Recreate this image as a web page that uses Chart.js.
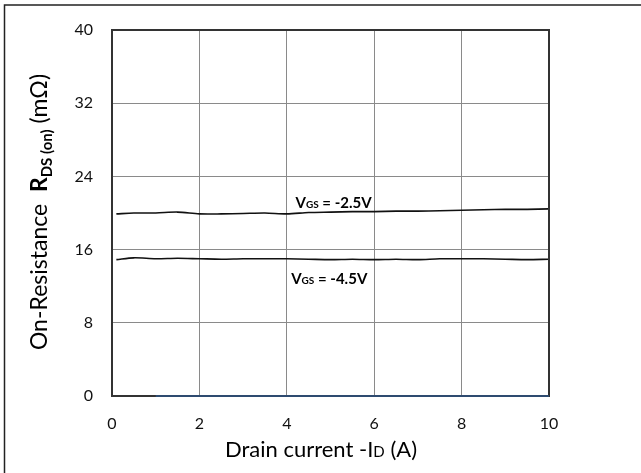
<!DOCTYPE html>
<html>
<head>
<meta charset="utf-8">
<script src="https://cdn.jsdelivr.net/npm/chart.js@4.4.1/dist/chart.umd.min.js"></script>
<style>
  html, body { margin: 0; padding: 0; background: #fff; }
  canvas { display: block; }
</style>
</head>
<body>
<canvas id="rdsChart" width="641" height="473"></canvas>
<script>
// Drain current (A) sample points
const currents = [0.1, 0.5, 1, 1.5, 2, 2.5, 3, 3.5, 4, 4.5, 5, 5.5, 6, 6.5, 7, 7.5, 8, 8.5, 9, 9.5, 10];
// On-resistance (mOhm) for each gate voltage
const rds25 = [19.9, 20.0, 20.0, 20.1, 19.9, 19.9, 19.95, 20.0, 19.9, 20.05, 20.1, 20.15, 20.15, 20.2, 20.2, 20.25, 20.3, 20.35, 20.4, 20.4, 20.45];
const rds45 = [14.9, 15.1, 15.0, 15.05, 15.0, 14.95, 15.0, 15.0, 15.0, 14.95, 14.9, 14.95, 14.9, 14.95, 14.9, 15.0, 15.0, 15.0, 14.95, 14.9, 14.95];
const baseX = [1, 10];
const baseY = [0, 0];
const xTicks = [0, 2, 4, 6, 8, 10];
const yTicks = [0, 8, 16, 24, 32, 40];

const FONT = 'Lato, "Open Sans", sans-serif';

// draw text made of pieces with different fonts (for subscripts)
function richText(ctx, parts, x, y, align) {
    let total = 0;
    parts.forEach(p => { ctx.font = p.font; total += ctx.measureText(p.text).width; });
    let cx = align === 'center' ? x - total / 2 : x;
    parts.forEach(p => {
        ctx.font = p.font;
        ctx.fillText(p.text, cx, y + (p.dy || 0));
        cx += ctx.measureText(p.text).width;
    });
}

const decorPlugin = {
    id: 'decor',
    afterDraw(chart) {
        const ctx = chart.ctx;
        const area = chart.chartArea;
        const xs = chart.scales.x, ys = chart.scales.y;
        ctx.save();
        // plot frame
        ctx.strokeStyle = '#333';
        ctx.lineWidth = 2;
        ctx.strokeRect(area.left, area.top, area.right - area.left, area.bottom - area.top);
        // dark baseline from the original
        ctx.strokeStyle = '#2e4b70';
        ctx.beginPath();
        ctx.moveTo(xs.getPixelForValue(baseX[0]), ys.getPixelForValue(baseY[0]));
        ctx.lineTo(xs.getPixelForValue(baseX[1]), ys.getPixelForValue(baseY[1]));
        ctx.stroke();
        // outer border (top and left)
        ctx.strokeStyle = '#222';
        ctx.lineWidth = 1.5;
        ctx.beginPath();
        ctx.moveTo(641, 5);
        ctx.lineTo(4.5, 5);
        ctx.lineTo(4.5, 473);
        ctx.stroke();

        ctx.fillStyle = '#000';
        ctx.textBaseline = 'alphabetic';
        ctx.textAlign = 'left';
        // curve labels
        richText(ctx, [
            { text: 'V', font: 'bold 15px ' + FONT },
            { text: 'GS', font: 'bold 10px ' + FONT },
            { text: ' = -2.5V', font: 'bold 15px ' + FONT }
        ], xs.getPixelForValue(4.2), ys.getPixelForValue(20.5), 'left');
        richText(ctx, [
            { text: 'V', font: 'bold 15px ' + FONT },
            { text: 'GS', font: 'bold 10px ' + FONT },
            { text: ' = -4.5V', font: 'bold 15px ' + FONT }
        ], xs.getPixelForValue(4.1), ys.getPixelForValue(12.2), 'left');

        // x axis title
        richText(ctx, [
            { text: 'Drain current -I', font: '22px ' + FONT },
            { text: 'D', font: '15px ' + FONT },
            { text: ' (A)', font: '22px ' + FONT }
        ], 321, 457, 'center');

        // y axis title
        ctx.translate(47, 212);
        ctx.rotate(-Math.PI / 2);
        richText(ctx, [
            { text: 'On-Resistance  ', font: '23px ' + FONT },
            { text: 'R', font: 'bold 23px ' + FONT },
            { text: 'DS (on)', font: 'bold 15px ' + FONT, dy: 5 },
            { text: ' (m\u03A9)', font: '23px ' + FONT }
        ], 0, 0, 'center');
        ctx.restore();
    }
};

const ctx = document.getElementById('rdsChart').getContext('2d');
new Chart(ctx, {
    type: 'line',
    data: {
        datasets: [{
            label: 'VGS = -2.5V',
            data: currents.map((c, i) => ({ x: c, y: rds25[i] })),
            borderColor: '#111',
            borderWidth: 1.6,
            pointRadius: 0,
            tension: 0.3,
            fill: false
        }, {
            label: 'VGS = -4.5V',
            data: currents.map((c, i) => ({ x: c, y: rds45[i] })),
            borderColor: '#111',
            borderWidth: 1.6,
            pointRadius: 0,
            tension: 0.3,
            fill: false
        }]
    },
    options: {
        responsive: false,
        animation: false,
        layout: { padding: { top: 30, right: 92, left: 0, bottom: 0 } },
        plugins: { legend: { display: false }, tooltip: { enabled: false } },
        scales: {
            x: {
                type: 'linear',
                min: 0, max: 10,
                afterBuildTicks: s => { s.ticks = xTicks.map(v => ({ value: v })); },
                afterFit: s => { s.height = 77; },
                grid: { color: '#8a8a8a', lineWidth: 1, drawTicks: false },
                border: { display: false },
                ticks: { color: '#111', font: { family: FONT, size: 16 }, padding: 18, maxRotation: 0 }
            },
            y: {
                min: 0, max: 40,
                afterBuildTicks: s => { s.ticks = yTicks.map(v => ({ value: v })); },
                afterFit: s => { s.width = 112; },
                grid: { color: '#8a8a8a', lineWidth: 1, drawTicks: false },
                border: { display: false },
                ticks: { color: '#111', font: { family: FONT, size: 16 }, padding: 19 }
            }
        }
    },
    plugins: [decorPlugin]
});
</script>
</body>
</html>
